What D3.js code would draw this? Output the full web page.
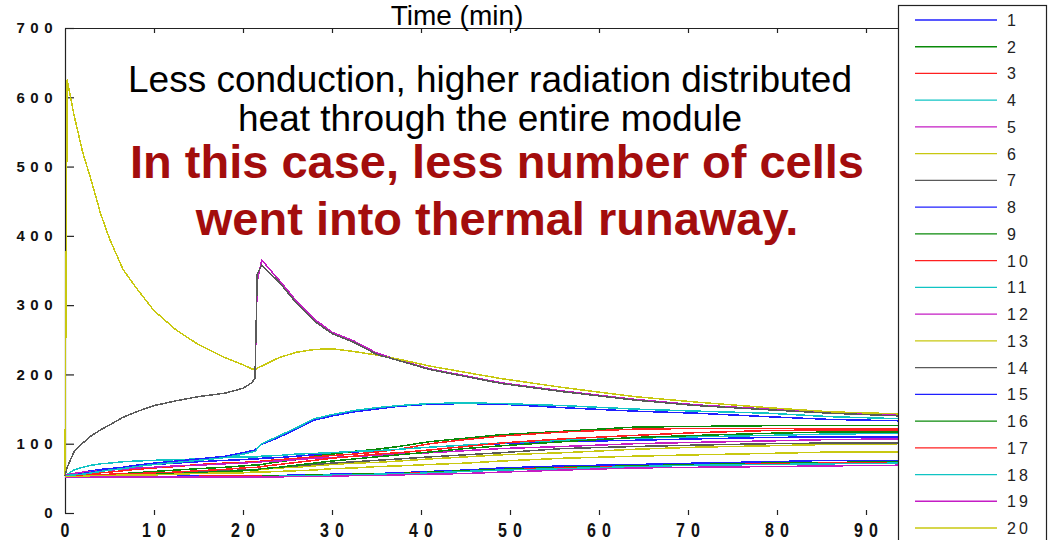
<!DOCTYPE html>
<html><head><meta charset="utf-8">
<script src="https://cdn.jsdelivr.net/npm/d3@7"></script>
<style>html,body{margin:0;padding:0;background:#fff;overflow:hidden}</style>
</head><body>
<svg id="chart" width="1052" height="540"></svg>
<script>
// ---- data ----
const time = [0, 0.25, 1, 2, 3, 4, 5, 6.5, 8, 10, 12.5, 15, 18, 20, 21, 21.35, 21.6, 22.1, 24, 26, 28, 30, 32.5, 35, 37.5, 41, 45, 49, 56, 64, 71, 79, 86, 94];
const s01 = [53,54,57,59,61,63,64,66,68,70,72,74,76,77,78,78,78,79,80,82,84,86,88,90,92,95,98,100,103,105,107,109,110,110];
const s02 = [53,53,54,54,55,55,56,57,58,60,62,64,66,68,69,69,69,70,74,77,82,85,89,92,96,103,108,113,118,124,125,126,126,126];
const s03 = [53,54,55,56,57,58,59,61,63,65,67,70,72,73,74,74,74,75,77,79,81,83,85,88,92,100,106,111,117,121,122,122,122,122];
const s04 = [53,56,62,66,69,71,72,74,75,76,77,78,80,81,81,81,81,82,83,85,86,87,89,90,92,95,98,101,105,108,110,112,114,115];
const s05 = [53,55,57,59,60,61,62,63,65,66,68,69,71,72,73,73,73,74,75,77,79,80,82,83,85,87,90,93,96,100,102,104,106,107];
const s06 = [53,53,53,54,54,54,55,55,56,57,58,59,60,61,62,62,62,63,65,66,68,70,72,73,75,78,81,84,87,92,95,97,99,100];
const s07 = [53,53,53,54,54,55,55,56,56,57,58,59,61,62,63,63,63,64,66,68,70,72,74,76,78,81,84,87,93,96,98,100,101,101];
const s08 = [53,54,55,57,59,61,63,66,69,72,75,78,82,87,90,91,94,99,109,121,134,140,146,150,154,157,158,157,152,147,144,139,135,133];
const s09 = [53,53,53,53,54,54,54,55,55,56,57,58,60,61,62,62,62,64,66,69,72,75,78,81,84,88,93,97,103,109,112,115,117,117];
const s10 = [53,53,54,54,55,55,56,56,57,58,59,61,63,65,66,66,66,67,70,73,76,79,82,85,87,91,96,101,107,112,116,119,120,120];
const s11 = [53,54,55,56,58,60,62,64,67,70,73,76,80,85,88,89,93,100,111,123,136,142,148,152,155,158,159,158,155,150,147,144,139,136];
const s12 = [53,66,88,101,112,120,127,138,146,155,162,168,173,180,188,195,335,365,337,306,280,261,248,231,221,208,198,188,176,164,156,150,145,141];
const s13 = [53,625,575,520,478,432,396,352,325,292,264,243,224,214,208,207,209,212,224,232,236,237,233,228,222,212,203,194,181,168,160,152,146,143];
const s14 = [53,66,88,101,112,120,127,138,146,155,162,168,173,180,188,195,345,358,334,303,277,259,246,229,220,207,197,187,175,163,155,149,144,140];
const s15 = [53,53,53,53,53,53,53,53,53,53,53,54,54,54,54,54,54,54,54,55,55,56,57,57,58,60,62,65,68,70,72,74,76,76];
const s16 = [53,53,53,53,53,53,53,53,53,53,53,53,53,53,53,53,53,53,54,54,55,55,56,56,57,59,61,63,66,68,70,72,73,74];
const s17 = [53,53,53,53,53,53,53,53,53,53,53,53,54,54,54,54,54,53,53,54,54,55,55,56,57,58,60,62,65,67,69,71,72,73];
const s18 = [53,53,53,53,53,53,53,53,53,53,53,53,53,53,53,53,53,53,53,54,54,55,55,56,56,58,60,62,64,67,69,70,71,72];
const s19 = [52,52,52,52,52,52,52,52,52,52,52,52,52,52,52,52,52,52,52,53,53,53,54,54,55,56,57,59,62,65,66,67,68,69];
const s20 = [53,53,53,53,54,54,54,55,55,55,56,57,58,58,59,59,59,59,60,61,62,64,65,67,68,70,72,75,79,82,84,86,88,88];

const seriesNames = ["1","2","3","4","5","6","7","8","9","10","11","12","13","14","15","16","17","18","19","20"];
const colorCycle = ["#1f1fff","#0a8a0a","#ff2020","#10c4c4","#c41cc4","#c8c810","#5a5a5a"];
const xTicks = [0,10,20,30,40,50,60,70,80,90];
const yTicks = [0,100,200,300,400,500,600,700];
const xLabel = "Time (min)";
const noteLines = ["Less conduction, higher radiation distributed", "heat through the entire module"];
const highlightLines = ["In this case, less number of cells", "went into thermal runaway."];

const allSeries = [s01,s02,s03,s04,s05,s06,s07,s08,s09,s10,s11,s12,s13,s14,s15,s16,s17,s18,s19,s20];

// ---- chart ----
const svg = d3.select("#chart");
const x = d3.scaleLinear().domain([0, 100]).range([65, 955]);
const y = d3.scaleLinear().domain([0, 700]).range([513, 28]);
const color = i => colorCycle[i % colorCycle.length];

// axes
const leftAxis = svg.append("g").attr("transform","translate(65,0)")
  .call(d3.axisLeft(y).tickValues(yTicks).tickSize(-9).tickSizeOuter(0).tickPadding(7).tickFormat(d3.format("d")));
leftAxis.select(".domain").attr("stroke","#222").attr("stroke-width",1.2);
leftAxis.selectAll(".tick line").attr("stroke","#222").attr("stroke-width",1.2);
leftAxis.selectAll(".tick text").attr("font-family","Liberation Sans, Arial, sans-serif")
  .attr("font-weight","bold").attr("font-size",15).attr("letter-spacing",5.5).attr("fill","#111");

const topAxis = svg.append("g").attr("transform","translate(0,28)")
  .call(d3.axisTop(x).tickValues(xTicks.slice(1)).tickSize(-5).tickSizeOuter(0).tickFormat(""));
topAxis.select(".domain").attr("stroke","#222").attr("stroke-width",1.2);
topAxis.selectAll(".tick line").attr("stroke","#222").attr("stroke-width",1.2);

const bottomAxis = svg.append("g").attr("transform","translate(0,515)")
  .call(d3.axisBottom(x).tickValues(xTicks.slice(1)).tickSize(-5).tickSizeOuter(0).tickFormat(""));
bottomAxis.select(".domain").remove();
bottomAxis.selectAll(".tick line").attr("stroke","#222").attr("stroke-width",1.2);

svg.append("g").selectAll("text").data(xTicks).join("text")
  .attr("transform", d => `translate(${x(d) + 3},537) scale(1,1.25)`)
  .attr("text-anchor","middle")
  .attr("font-family","Liberation Sans, Arial, sans-serif")
  .attr("font-weight","bold").attr("font-size",16).attr("letter-spacing",6).attr("fill","#111")
  .text(d => d);

// lines
const line = d3.line().x((d,i) => x(time[i])).y(d => y(d));
svg.append("g").selectAll("path").data(allSeries).join("path")
  .attr("d", d => line(d))
  .attr("fill","none")
  .attr("stroke",(d,i) => color(i))
  .attr("stroke-width",1.5)
  .attr("shape-rendering","crispEdges")
  .attr("stroke-linejoin","round");

// x label at top
svg.append("text").attr("x",457).attr("y",25).attr("text-anchor","middle")
  .attr("font-family","Liberation Sans, Arial, sans-serif").attr("font-size",28).attr("fill","#000")
  .text(xLabel);

// annotation
svg.append("g").selectAll("text").data(noteLines).join("text")
  .attr("x",490).attr("y",(d,i) => 92 + i*39).attr("text-anchor","middle")
  .attr("font-family","Liberation Sans, Arial, sans-serif").attr("font-size",37).attr("fill","#000")
  .text(d => d);
svg.append("g").selectAll("text").data(highlightLines).join("text")
  .attr("x",497).attr("y",(d,i) => 178 + i*57).attr("text-anchor","middle")
  .attr("font-family","Liberation Sans, Arial, sans-serif").attr("font-weight","bold")
  .attr("font-size",47).attr("fill","#a30d0d")
  .text(d => d);

// legend
const lg = svg.append("g");
lg.append("rect").attr("x",898.5).attr("y",5.5).attr("width",148).attr("height",560)
  .attr("fill","#fff").attr("stroke","#222").attr("stroke-width",1.2);
const ly = d3.scaleLinear().domain([0, 19]).range([20, 528]);
const items = lg.selectAll("g.item").data(seriesNames).join("g").attr("class","item")
  .attr("transform",(d,i) => `translate(0,${ly(i)})`);
items.append("line").attr("x1",915).attr("x2",997).attr("y1",0).attr("y2",0)
  .attr("stroke",(d,i) => color(i)).attr("stroke-width",1.3);
items.append("text").attr("x",1007).attr("y",6)
  .attr("font-family","Liberation Sans, Arial, sans-serif").attr("font-size",16)
  .attr("letter-spacing",3).attr("fill","#222").text(d => d);
</script>
</body></html>
